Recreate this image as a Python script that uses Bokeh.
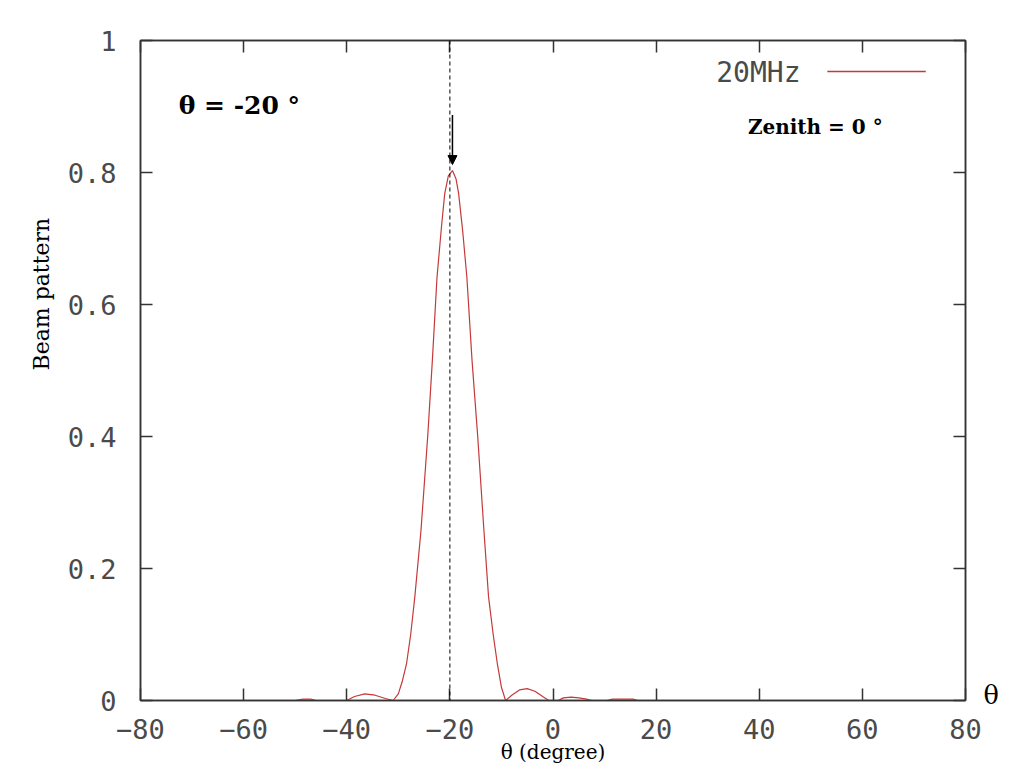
import math
from bokeh.plotting import figure
from bokeh.models import (Range1d, LinearAxis, FixedTicker, Label, Span, Arrow,
                          NormalHead, ColumnDataSource, Title)
from bokeh.embed import file_html
from bokeh.resources import INLINE

# ---------------- data ----------------
theta = [-50, -48.5, -47, -46, -40, -38.5, -36.5, -34.5, -32.5, -31, -30, -29.2,
         -28.4, -27.6, -26.8, -25.6, -24.3, -23.4, -22.5, -21.6, -21.0, -20.3,
         -19.5, -18.8, -18.3, -17.5, -16.7, -15.7, -14.6, -13.4, -12.5, -11.6,
         -10.8, -10.0, -9.2, -8.0, -6.5, -5.0, -3.5, -2.0, -0.8, 1.0, 2.0, 3.5,
         5.0, 6.5, 7.5, 10.5, 11.5, 13.5, 15.5, 16.5]
beam = [0, 0.002, 0.002, 0, 0, 0.006, 0.010, 0.008, 0.003, 0, 0.010, 0.030,
        0.056, 0.100, 0.157, 0.258, 0.400, 0.515, 0.641, 0.720, 0.768, 0.795,
        0.803, 0.790, 0.768, 0.710, 0.641, 0.515, 0.400, 0.258, 0.157, 0.100,
        0.056, 0.020, 0, 0.008, 0.016, 0.018, 0.014, 0.006, 0, 0, 0.004, 0.005,
        0.004, 0.002, 0, 0, 0.002, 0.002, 0.002, 0]

x_ticks = [-80, -60, -40, -20, 0, 20, 40, 60, 80]
y_ticks = [0, 0.2, 0.4, 0.6, 0.8, 1]
y_tick_labels = {0: "0", 0.2: "0.2", 0.4: "0.4", 0.6: "0.6", 0.8: "0.8", 1: "1"}
steer_angle = -20
series_name = "20MHz"

LINE_COLOR = "#c43a3a"
TICK_FONT = "DejaVu Sans Mono"
TICK_COLOR = "#4a4a4a"
SERIF = "DejaVu Serif"
W, H = 1008, 766

p = figure(width=W, height=H, x_range=Range1d(-80, 80), y_range=Range1d(0, 1),
           output_backend="svg", toolbar_location=None,
           min_border_left=140, min_border_right=43, min_border_top=40,
           min_border_bottom=66)
p.grid.visible = False
p.outline_line_color = "#333333"
p.outline_line_width = 1.5
p.background_fill_color = "white"
p.border_fill_color = "white"

def style_axis(ax, show_labels):
    ax.major_tick_in = 12
    ax.major_tick_out = 0
    ax.minor_tick_line_color = None
    ax.axis_line_color = "#333333"
    ax.axis_line_width = 1.5
    ax.major_tick_line_color = "#333333"
    ax.major_tick_line_width = 1.5
    ax.major_label_text_font = TICK_FONT
    ax.major_label_text_font_size = "27px" if show_labels else "0px"
    ax.major_label_text_color = TICK_COLOR if show_labels else None
    if not show_labels:
        ax.major_label_standoff = 0

p.xaxis.ticker = FixedTicker(ticks=x_ticks)
p.yaxis.ticker = FixedTicker(ticks=y_ticks)
p.yaxis.major_label_overrides = y_tick_labels
style_axis(p.xaxis[0], True)
style_axis(p.yaxis[0], True)
p.xaxis.major_label_standoff = 18
p.yaxis.major_label_standoff = 24

# x axis title
p.xaxis.axis_label = "θ (degree)"
p.xaxis.axis_label_text_font = SERIF
p.xaxis.axis_label_text_font_size = "20px"
p.xaxis.axis_label_text_font_style = "normal"
p.xaxis.axis_label_text_color = "black"
p.xaxis.axis_label_standoff = -2

# mirrored tick axes on top and right
top_ax = LinearAxis(ticker=FixedTicker(ticks=x_ticks))
style_axis(top_ax, False)
p.add_layout(top_ax, "above")
right_ax = LinearAxis(ticker=FixedTicker(ticks=y_ticks))
style_axis(right_ax, False)
p.add_layout(right_ax, "right")

# y title: vertical, starting 330px above the bottom of the frame
p.add_layout(Title(text="Beam pattern", align="left", offset=330,
                   text_font=SERIF, text_font_size="22px", text_font_style="normal",
                   text_color="black", standoff=22), "left")

# the θ mark at the right end of the x axis (placed on the last line of the label)
rtitle_ax = LinearAxis(ticker=FixedTicker(ticks=[]))
rtitle_ax.axis_line_color = None
rtitle_ax.major_tick_line_color = None
rtitle_ax.minor_tick_line_color = None
rtitle_ax.major_label_text_font_size = "0px"
rtitle_ax.major_label_text_color = None
rtitle_ax.major_label_standoff = 0
rtitle_ax.axis_label = "\n" * 18 + "θ"
rtitle_ax.axis_label_text_font = SERIF
rtitle_ax.axis_label_text_font_size = "25.5px"
rtitle_ax.axis_label_text_font_style = "normal"
rtitle_ax.axis_label_text_color = "black"
rtitle_ax.axis_label_standoff = 18
rtitle_ax.axis_label_orientation = "horizontal"
p.add_layout(rtitle_ax, "right")

# curve
src = ColumnDataSource(data=dict(theta=theta, beam=beam))
p.line("theta", "beam", source=src, line_color=LINE_COLOR, line_width=1.2)

# steering direction marker
p.add_layout(Span(location=steer_angle, dimension="height", line_color="black",
                  line_width=1, line_dash="4 3"))
p.add_layout(Arrow(end=NormalHead(size=9, fill_color="black", line_color="black"),
                   x_start=-19.5, y_start=0.887, x_end=-19.5, y_end=0.812,
                   line_color="black", line_width=1.5))

# legend (gnuplot style: label then sample)
p.add_layout(Label(x=48.0, y=0.952, text=series_name, text_align="right",
                   text_baseline="middle", text_font=TICK_FONT,
                   text_font_size="28px", text_color=TICK_COLOR))
leg_src = ColumnDataSource(data=dict(x=[53.2, 72.3], y=[0.953, 0.953]))
p.line("x", "y", source=leg_src, line_color=LINE_COLOR, line_width=1.5)

# annotations inside the frame
p.add_layout(Label(x=-72.6, y=0.901, text="θ = -20 °", text_baseline="middle",
                   text_font=SERIF, text_font_style="bold", text_font_size="25px",
                   text_color="black"))
p.add_layout(Label(x=37.8, y=0.869, text="Zenith = 0 °", text_baseline="middle",
                   text_font=SERIF, text_font_style="bold", text_font_size="20px",
                   text_color="black"))

open("out.html", "w").write(file_html(p, INLINE))
